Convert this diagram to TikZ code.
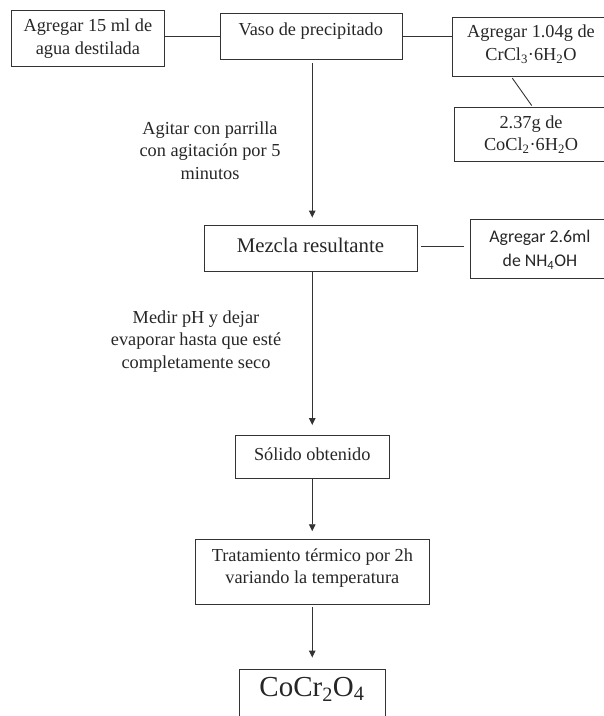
\documentclass[tikz,border=0pt]{standalone}
\usepackage{fontspec}
\setmainfont{Liberation Serif}
\newfontfamily\calibrifont{Carlito}
\usetikzlibrary{arrows.meta}

\begin{document}
\begin{tikzpicture}[x=1bp,y=-1bp,
  box/.style={draw=black!80, line width=0.9bp, inner sep=0pt},
  txt/.style={align=center, inner sep=0pt, text=black!85,
    font=\fontsize{18.3bp}{22.7bp}\selectfont},
  link/.style={draw=black!80, line width=0.9bp},
  flow/.style={link, -{Triangle[length=7bp,width=6.5bp]}}]

\useasboundingbox (0,0) rectangle (604,716);
\clip (0,0) rectangle (604,716);

% ---- top row ----
\node[box, minimum width=152.3bp, minimum height=56bp] (b1) at (87.85,38.7) {};
\node[txt] (t1) at (87.85,38.3) {Agregar 15 ml de\\agua destilada};

\node[box, minimum width=181.3bp, minimum height=46bp] (b2) at (311.35,36.3) {};
\node[txt] (t2) at (310.8,31) {Vaso de precipitado};

\node[box, minimum width=157.4bp, minimum height=58.7bp] (b3) at (531,46.65) {};
\node[txt] (t3) at (531,44.3) {Agregar 1.04g de\\CrCl\textsubscript{3}·6H\textsubscript{2}O};

\node[box, minimum width=152.8bp, minimum height=53.7bp] (b4) at (531.1,134.15) {};
\node[txt] (t4) at (531.1,134.5) {2.37g de\\CoCl\textsubscript{2}·6H\textsubscript{2}O};

% ---- middle ----
\node[box, minimum width=213bp, minimum height=46bp] (b5) at (310.5,248) {};
\node[txt, font=\fontsize{20.8bp}{25bp}\selectfont] (t5) at (310.4,245) {Mezcla resultante};

\node[box, minimum width=139.8bp, minimum height=59.3bp] (b6) at (539.9,248.65) {};
\node[txt, font=\calibrifont\fontsize{17.8bp}{24.3bp}\selectfont] (t6) at (539.9,249.5)
  {Agregar 2.6ml\\de NH\textsubscript{4}OH};

\node[box, minimum width=154.5bp, minimum height=43.3bp] (b7) at (312.25,456.65) {};
\node[txt] (t7) at (312.25,454) {Sólido obtenido};

\node[box, minimum width=233.3bp, minimum height=65bp] (b8) at (312.35,571.5) {};
\node[txt] (t8) at (312.35,568.2) {Tratamiento térmico por 2h\\variando la temperatura};

\node[box, minimum width=146bp, minimum height=70bp] (b9) at (312,704) {};
\node[txt, font=\fontsize{29bp}{32bp}\selectfont] (t9) at (312,689)
  {CoCr\textsubscript{2}O\textsubscript{4}};

% ---- step labels ----
\node[txt] (l1) at (210,150.5) {Agitar con parrilla\\con agitación por 5\\minutos};
\node[txt] (l2) at (196,341.5) {Medir pH y dejar\\evaporar hasta que esté\\completamente seco};

% ---- connectors ----
\draw[link] (b2.west) -- (b2.west -| b1.east);
\draw[link] (b2.east) -- (b2.east -| b3.west);
\draw[link] ([xshift=-18.7bp,yshift=-1.7bp]b3.south) -- ([xshift=0.6bp,yshift=1.3bp]b4.north);
\draw[link, shorten <=3.7bp, shorten >=6bp] ([yshift=2bp]b5.east) -- ([yshift=2bp]b5.east -| b6.west);

\draw[flow, shorten <=3.4bp, shorten >=7bp] (b2.south -| b7.north) -- (b5.north -| b7.north);
\draw[flow, shorten >=9.5bp] (b5.south -| b7.north) -- (b7.north);
\draw[flow, shorten >=7.3bp] (b7.south) -- (b7.south |- b8.north);
\draw[flow, shorten <=2.7bp, shorten >=11bp] (b7.south |- b8.south) -- (b7.south |- b9.north);

\end{tikzpicture}
\end{document}
